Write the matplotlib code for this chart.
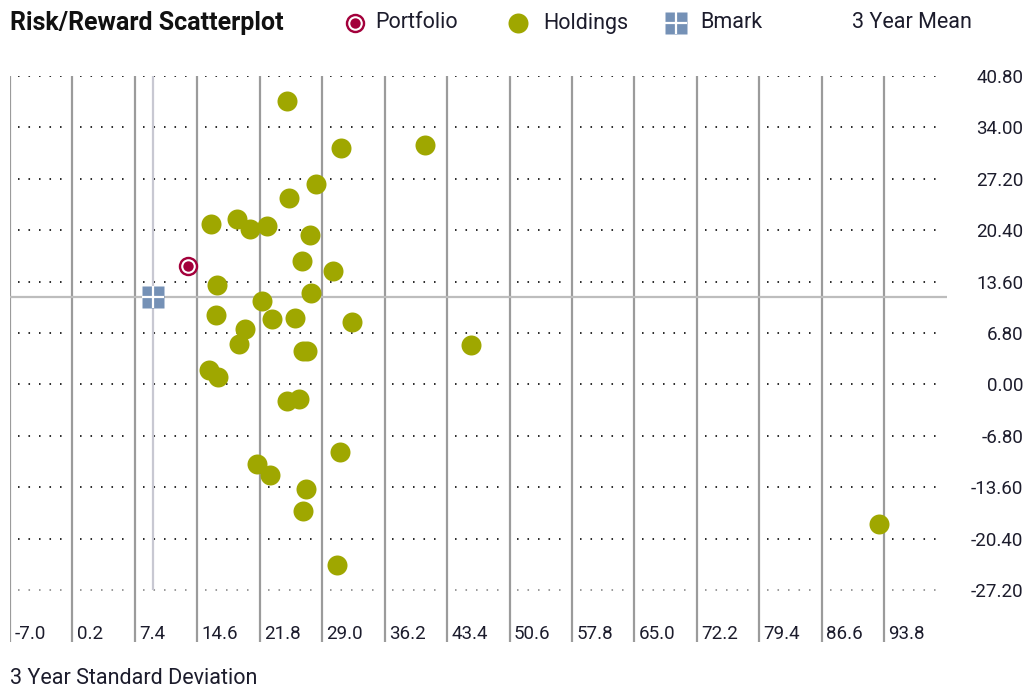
"""
Risk/Reward scatterplot: 3-year standard deviation vs 3-year mean
for the portfolio, its holdings and the benchmark.
"""
import matplotlib
matplotlib.use("Agg")
import matplotlib.pyplot as plt
import matplotlib.transforms as mtransforms
from matplotlib.lines import Line2D

plt.rcParams["font.family"] = ["Roboto", "DejaVu Sans"]

# holdings (3yr std dev, 3yr mean)
holdings_sd = [24.9, 31.2, 40.8, 28.3, 25.2, 16.2, 19.2, 20.7, 22.6, 27.6,
               26.7, 30.2, 16.9, 27.7, 22.0, 16.8, 23.2, 25.9, 32.4, 20.1,
               19.4, 26.8, 27.3, 46.1, 16.0, 17.0, 24.9, 26.3, 31.0, 21.5,
               23.0, 27.1, 26.8, 30.7, 93.2]
holdings_mean = [37.5, 31.3, 31.7, 26.5, 24.6, 21.2, 21.8, 20.6, 20.9, 19.8,
                 16.3, 15.0, 13.1, 12.1, 11.0, 9.2, 8.6, 8.8, 8.2, 7.3,
                 5.3, 4.4, 4.4, 5.2, 1.9, 1.0, -2.2, -1.9, -8.9, -10.5,
                 -12.0, -13.8, -16.7, -23.8, -18.5]
portfolio_sd, portfolio_mean = 13.5, 15.6
bmark_sd, bmark_mean = 9.45, 11.55

sd_ticks = [-7.0, 0.2, 7.4, 14.6, 21.8, 29.0, 36.2, 43.4, 50.6, 57.8,
            65.0, 72.2, 79.4, 86.6, 93.8]
mean_ticks = [40.80, 34.00, 27.20, 20.40, 13.60, 6.80, 0.00, -6.80,
              -13.60, -20.40, -27.20]

OLIVE = "#9fa700"
CRIMSON = "#a3003b"
STEEL = "#7591b6"
TXT = "#1c1c2c"

fig = plt.figure(figsize=(10.27, 6.89), dpi=100)
W, H = 1027, 689
ax = fig.add_axes([10 / W, 1 - 641.7 / H, 936.7 / W, 566 / H])
ax.set_xlim(-7.0, 101.0)
ax.set_ylim(-34.0, 40.8)
for s in ax.spines.values():
    s.set_visible(False)
ax.set_xticks([])

# dotted horizontal grid, broken at each column line
col_edges = sd_ticks + [101.0]
for i in range(len(sd_ticks)):
    left, right = col_edges[i] + 0.9, col_edges[i + 1] - 0.5
    for m in mean_ticks:
        c = "#9a9a9a" if m == mean_ticks[-1] else "#2a2a2a"
        ax.hlines(m, left, right, colors=c, linewidth=1.4,
                  linestyles=(0, (0.8, 4.6)), zorder=1)

# solid column lines
ax.vlines(sd_ticks, -34.0, 40.8, colors="#9b9b9b", linewidth=1.6, zorder=1)

# crosshair through the benchmark
ax.axhline(bmark_mean, color="#bdbdbd", linewidth=1.6, zorder=1.5)
ax.vlines(bmark_sd, mean_ticks[-1], mean_ticks[0], colors="#c8c8d2",
          linewidth=1.6, zorder=1.5)

ax.plot(holdings_sd, holdings_mean, "o", ms=14.4, color=OLIVE, mec="none", zorder=3)

ax.plot(portfolio_sd, portfolio_mean, "o", ms=14, color=CRIMSON, mec="none", zorder=4)
ax.plot(portfolio_sd, portfolio_mean, "o", ms=10.5, color="white", mec="none", zorder=4)
ax.plot(portfolio_sd, portfolio_mean, "o", ms=7.5, color=CRIMSON, mec="none", zorder=4)

ax.plot(bmark_sd, bmark_mean, "s", ms=15.5, color=STEEL, mec="none", zorder=4)
ax.plot(bmark_sd, bmark_mean, "+", ms=16.5, color="white", mew=1.6, zorder=4)

# right-hand mean labels
ax.yaxis.tick_right()
ax.set_yticks(mean_ticks)
ax.set_yticklabels([f"{v:.2f}" for v in mean_ticks], ha="right",
                   fontsize=13.5, color=TXT)
ax.tick_params(axis="y", length=0, pad=55)

# std dev labels inside the plot, just right of each column line
trans = mtransforms.blended_transform_factory(ax.transData, ax.transAxes)
for v in sd_ticks:
    ax.annotate(f"{v:.1f}", (v, 0.004), xycoords=trans, xytext=(3, 0),
                textcoords="offset points", ha="left", va="baseline",
                fontsize=13.5, color=TXT)

# header row
y_head = 1 - 23 / H
fig.text(10 / W, y_head, "Risk/Reward Scatterplot", fontsize=18,
         fontweight="bold", color="#111111", va="center", ha="left")
fig.add_artist(Line2D([355 / W], [y_head], transform=fig.transFigure,
                      marker="o", ms=14, color=CRIMSON, mec="none"))
fig.add_artist(Line2D([355 / W], [y_head], transform=fig.transFigure,
                      marker="o", ms=10.5, color="white", mec="none"))
fig.add_artist(Line2D([355 / W], [y_head], transform=fig.transFigure,
                      marker="o", ms=7.5, color=CRIMSON, mec="none"))
fig.text(375.7 / W, y_head, "Portfolio", fontsize=15.5, color=TXT,
         va="center", ha="left")
fig.add_artist(Line2D([518 / W], [y_head], transform=fig.transFigure,
                      marker="o", ms=14.4, color=OLIVE, mec="none"))
fig.text(543 / W, y_head, "Holdings", fontsize=15.5, color=TXT,
         va="center", ha="left")
fig.add_artist(Line2D([676 / W], [y_head], transform=fig.transFigure,
                      marker="s", ms=15.5, color=STEEL, mec="none"))
fig.add_artist(Line2D([676 / W], [y_head], transform=fig.transFigure,
                      marker="+", ms=16.5, color="white", mew=1.6))
fig.text(700 / W, y_head, "Bmark", fontsize=15.5, color=TXT,
         va="center", ha="left")
fig.text(852 / W, y_head, "3 Year Mean", fontsize=15.5, color=TXT,
         va="center", ha="left")

fig.text(10 / W, 1 - 678 / H, "3 Year Standard Deviation", fontsize=15.5,
         color=TXT, va="center", ha="left")

fig.savefig("out.png", dpi=100)
